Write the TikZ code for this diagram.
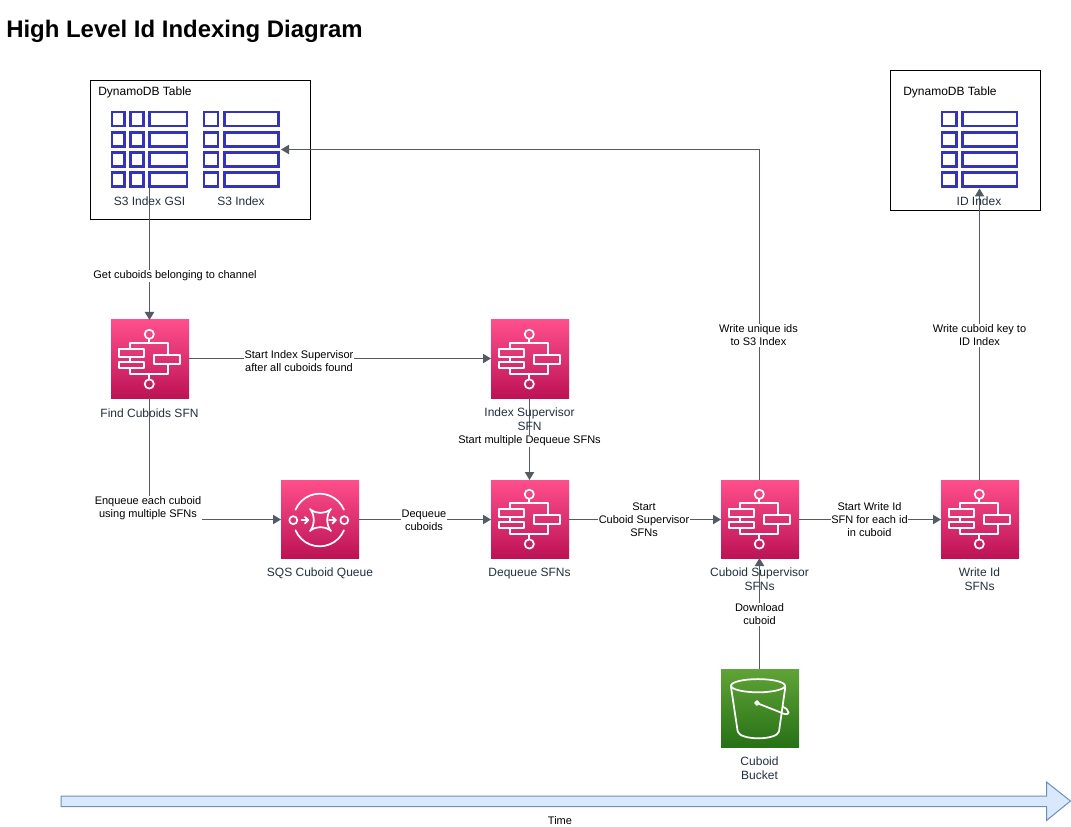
\documentclass[tikz,border=0pt]{standalone}
\usepackage{fontspec}
\setmainfont{Liberation Sans}
\usetikzlibrary{arrows.meta}
\definecolor{awsink}{HTML}{232F3E}
\definecolor{conn}{HTML}{545B64}
\definecolor{pinkT}{HTML}{FF4F8B}
\definecolor{pinkB}{HTML}{BC1356}
\definecolor{greenT}{HTML}{60A337}
\definecolor{greenB}{HTML}{277116}
\definecolor{tablec}{HTML}{3334B9}
\definecolor{timefill}{HTML}{DAE8FC}
\definecolor{timeline}{HTML}{6C8EBF}
\tikzset{
  pinkbox/.style={rectangle,minimum size=58.5pt,inner sep=0pt,outer sep=0pt,top color=pinkT,bottom color=pinkB,draw=none},
  greenbox/.style={rectangle,minimum size=58.5pt,inner sep=0pt,outer sep=0pt,top color=greenT,bottom color=greenB,draw=none},
  framebox/.style={rectangle,draw=black,line width=0.75pt,fill=white,inner sep=0pt,outer sep=0pt,anchor=north west},
  cell/.style={rectangle,draw=tablec,line width=2pt,fill=none,inner sep=0pt,outer sep=0pt,anchor=north west,minimum height=10.5pt},
  white line/.style={draw=white,line width=1.3pt,line cap=round,line join=round},
  conn line/.style={draw=conn,line width=0.75pt,-{Triangle[length=6pt,width=7pt]}},
  vl/.style={xshift=-0.375pt},
  hlup/.style={yshift=0.375pt},
  hldown/.style={yshift=-0.375pt},
  icon label/.style={font=\fontsize{9}{10.5}\selectfont,text=awsink,align=center,inner sep=0pt},
  edge label/.style={font=\fontsize{8.25}{9.75}\selectfont,text=black,align=center,inner sep=0.5pt,fill=white},
  frame label/.style={font=\fontsize{9}{10.5}\selectfont,text=black,inner sep=0pt,anchor=west},
  pics/sfnicon/.style={code={
    \draw[white line] (38.3,14.3) circle[radius=4.6];
    \draw[white line] (38.3,64) circle[radius=4.6];
    \draw[white line] (38.3,19.3) -- (38.3,23.3);
    \draw[white line] (38.3,54) -- (38.3,59);
    \draw[white line] (19,29.3) -- (19,23.3) -- (57.3,23.3) -- (57.3,35);
    \draw[white line] (19,48.3) -- (19,54) -- (57.3,54) -- (57.3,44.3);
    \draw[white line] (19,36.7) -- (19,41.7);
    \draw[white line] (8,29.3) rectangle (33.3,36.7);
    \draw[white line] (8,41.7) rectangle (33.3,48.3);
    \draw[white line] (43,35) rectangle (69,44.3);
  }},
  pics/sqsicon/.style={code={
    \draw[white line] (14.5,29.7) arc[start angle=203,end angle=337,radius=26.3];
    \draw[white line] (14.5,50.3) arc[start angle=157,end angle=23,radius=26.3];
    \draw[white line] (12.3,40.2) circle[radius=4];
    \draw[white line] (63.3,40.2) circle[radius=4];
    \draw[white line] (20.5,40.2) -- (27.3,40.2);
    \draw[white line] (24,37) -- (27.3,40.2) -- (24,43.4);
    \draw[white line] (48,40.2) -- (54.8,40.2);
    \draw[white line] (51.5,37) -- (54.8,40.2) -- (51.5,43.4);
    \draw[white line] (29,29) .. controls (34,34) and (45,34) .. (50,29)
       .. controls (45,34.5) and (45,45.5) .. (50,51)
       .. controls (45,46) and (34,46) .. (29,51)
       .. controls (34,45.5) and (34,34.5) .. (29,29) -- cycle;
  }},
  pics/bucketicon/.style={code={
    \draw[white line] (37,16.7) ellipse[x radius=27,y radius=6.6];
    \draw[white line] (10,18) -- (16.7,62.5) .. controls (17.5,67) and (28,69.3) .. (37.3,69.3)
       .. controls (47,69.3) and (57,67) .. (58,62.5) -- (64.3,18);
    \draw[white line] (36,34) circle[radius=1.9];
    \draw[white line] (37.8,34.8) -- (59.3,43.3) .. controls (63,45.5) and (67.5,46) .. (67.5,43.5)
       .. controls (67.3,40.8) and (64.5,38.8) .. (61.7,37.5);
  }},
}
\begin{document}
\begin{tikzpicture}[x=0.75pt,y=-0.75pt]
\useasboundingbox (0,0) rectangle (1071,827);
% frames
\node[framebox,minimum width=165pt,minimum height=104.6pt] (frameL) at (90.5,80.5) {};
\node[framebox,minimum width=112.5pt,minimum height=105pt] (frameR) at (890.5,70.5) {};
\node[frame label] (dynL) at (98,92) {DynamoDB Table};
\node[frame label] (dynR) at (903,92) {DynamoDB Table};
% table cells
\foreach \y [count=\r] in {112,132.3,152.5,172.5}{
  \node[cell,minimum width=9.5pt] (ga\r) at (112,\y) {};
  \node[cell,minimum width=9.7pt] (gb\r) at (130.7,\y) {};
  \node[cell,minimum width=28pt] (gc\r) at (149.7,\y) {};
  \node[cell,minimum width=10.5pt] (sa\r) at (204,\y) {};
  \node[cell,minimum width=40.5pt] (sb\r) at (224.7,\y) {};
  \node[cell,minimum width=10.7pt] (ia\r) at (942,\y) {};
  \node[cell,minimum width=41pt] (ib\r) at (962.3,\y) {};
}
% service icons
\node[pinkbox] (find) at (150,359) {};
\node[pinkbox] (index) at (530,359) {};
\node[pinkbox] (sqs) at (320,519) {};
\node[pinkbox] (dequeue) at (530,519) {};
\node[pinkbox] (csup) at (760,519) {};
\node[pinkbox] (writeid) at (980,519) {};
\node[greenbox] (bucket) at (760,708) {};
\pic at (find.north west) {sfnicon};
\pic at (index.north west) {sfnicon};
\pic at (sqs.north west) {sqsicon};
\pic at (dequeue.north west) {sfnicon};
\pic at (csup.north west) {sfnicon};
\pic at (writeid.north west) {sfnicon};
\pic at (bucket.north west) {bucketicon};
% free ends
\coordinate (gsiOut) at (149.5,188);
\coordinate (s3In) at (281,149.5);
\coordinate (idIn) at (979.5,188.5);
\coordinate (enqTurn) at (149.5,519.5);
% connectors
\draw[conn line] (gsiOut) -- ([vl]find.north);
\draw[conn line] ([hlup]find.east) -- ([hlup]index.west);
\draw[conn line] ([vl]find.south) -- (enqTurn) -- ([hldown]sqs.west);
\draw[conn line] ([vl]index.south) -- ([vl]dequeue.north);
\draw[conn line] ([hldown]sqs.east) -- ([hldown]dequeue.west);
\draw[conn line] ([hldown]dequeue.east) -- ([hldown]csup.west);
\draw[conn line] ([hldown]csup.east) -- ([hldown]writeid.west);
\draw[conn line] ([vl]csup.north) |- (s3In);
\draw[conn line] ([vl]writeid.north) -- (idIn);
\draw[conn line] ([vl]bucket.north) -- ([vl]csup.south);
% icon labels
\node[icon label] (lgsi) at (149.5,201) {S3 Index GSI};
\node[icon label] (ls3) at (241,201) {S3 Index};
\node[icon label] (lid) at (979,201.5) {ID Index};
\node[icon label] (lfind) at (149.5,413) {Find Cuboids SFN};
\node[icon label] (lindex) at (529.5,419) {Index Supervisor\\SFN};
\node[icon label] (lsqs) at (320,573) {SQS Cuboid Queue};
\node[icon label] (ldeq) at (529.5,573.5) {Dequeue SFNs};
\node[icon label] (lcsup) at (759.5,579.5) {Cuboid Supervisor\\SFNs};
\node[icon label] (lwrite) at (979.5,579.5) {Write Id\\SFNs};
\node[icon label] (lbucket) at (759.5,768.5) {Cuboid\\Bucket};
% edge labels
\node[edge label] (e1) at (175,276) {Get cuboids belonging to channel};
\node[edge label] (e2) at (299,361.5) {Start Index Supervisor\\after all cuboids found};
\node[edge label] (e3) at (529.5,441) {Start multiple Dequeue SFNs};
\node[edge label] (e4) at (148,508) {Enqueue each cuboid\\using multiple SFNs};
\node[edge label] (e5) at (424,520.5) {Dequeue\\cuboids};
\node[edge label] (e6) at (644,519.5) {Start\\Cuboid Supervisor\\SFNs};
\node[edge label] (e7) at (869.5,519.5) {Start Write Id\\SFN for each id\\in cuboid};
\node[edge label] (e8) at (758.5,335.5) {Write unique ids\\to S3 Index};
\node[edge label] (e9) at (979.5,335.5) {Write cuboid key to\\ID Index};
\node[edge label] (e10) at (759.5,614.5) {Download\\cuboid};
% time arrow
\draw[fill=timefill,draw=timeline,line width=0.75pt] (61,796) -- (1046.5,796) -- (1046.5,782) -- (1070.5,801) -- (1046.5,820.5) -- (1046.5,806.5) -- (61,806.5) -- cycle;
\node[font=\fontsize{8.25}{9.75}\selectfont,text=black,inner sep=0pt] (ltime) at (560,821) {Time};
% title
\node[font=\bfseries\fontsize{17.95}{21}\selectfont,text=black,anchor=base west,inner sep=0pt] (title) at (6,38) {High Level Id Indexing Diagram};
\end{tikzpicture}
\end{document}
